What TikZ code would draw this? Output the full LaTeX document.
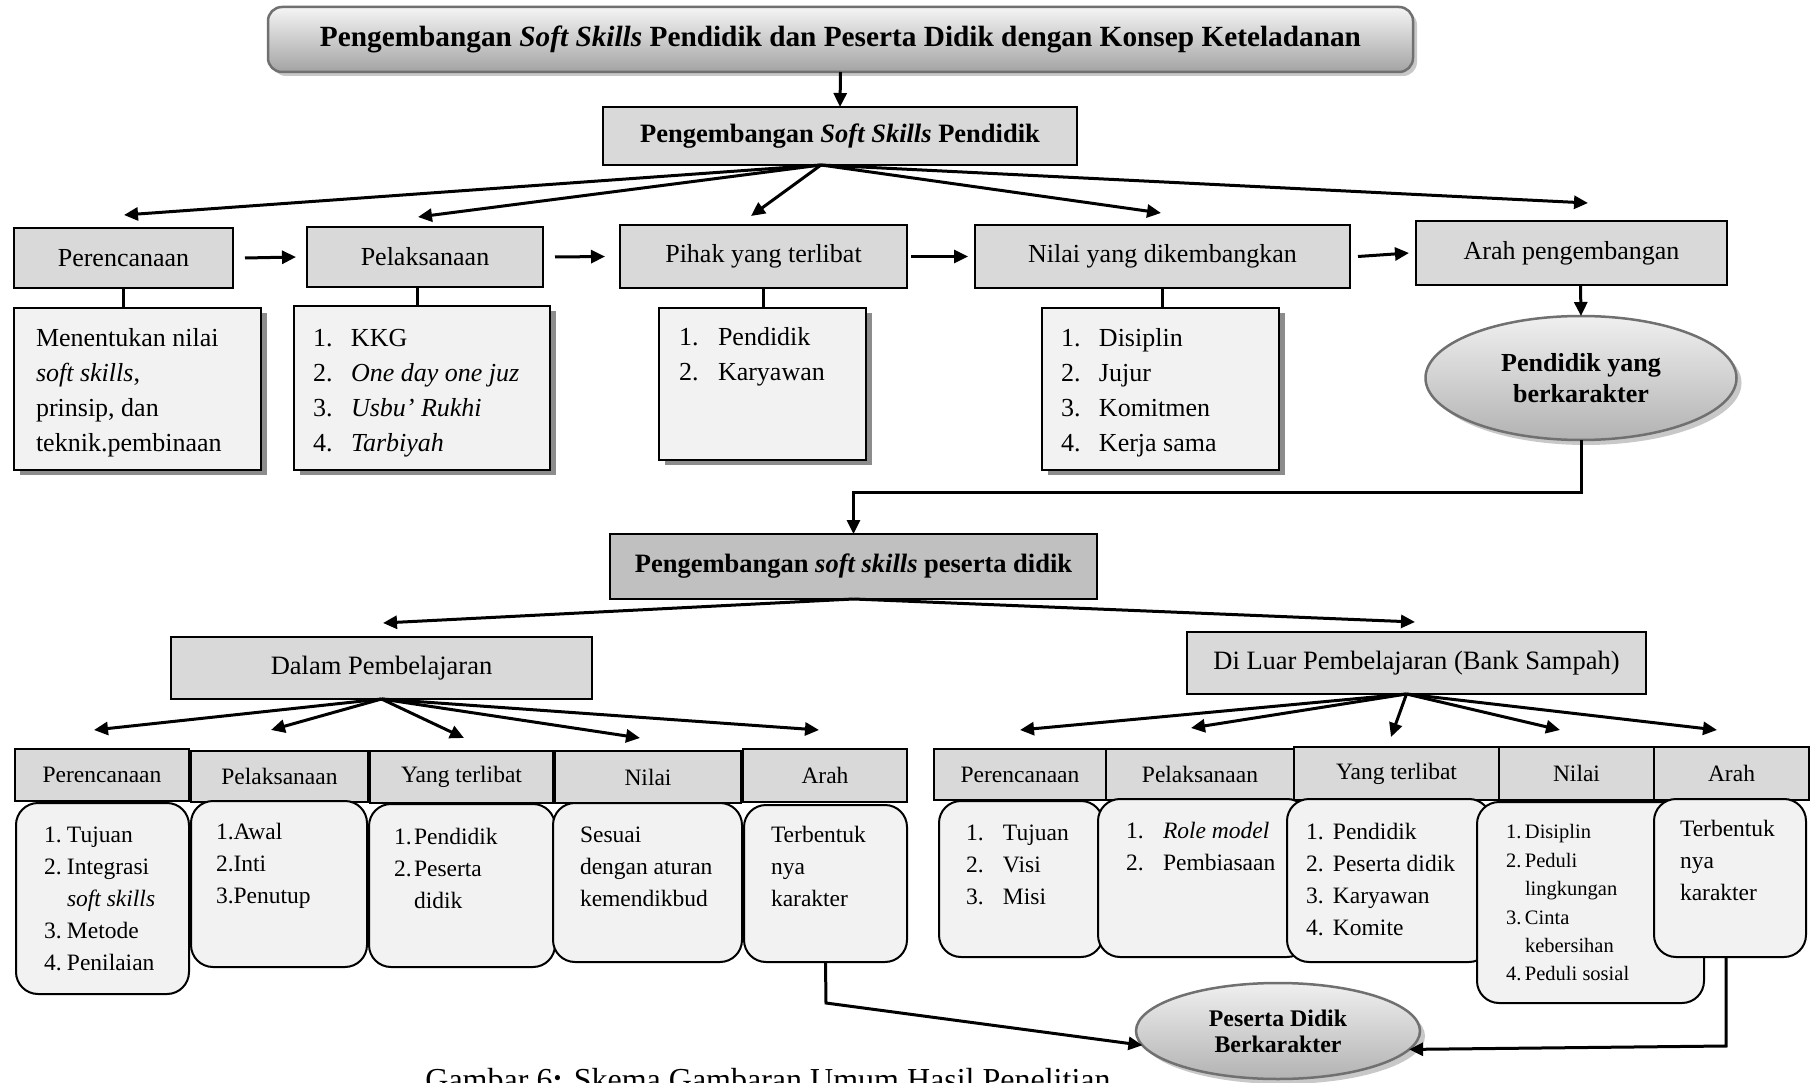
\documentclass[tikz,border=0pt]{standalone}
\usepackage{fontspec}
\setmainfont{Liberation Serif}
\usetikzlibrary{arrows.meta,shapes.geometric,shadows,calc}
\definecolor{hdr}{HTML}{D9D9D9}
\definecolor{hdrdark}{HTML}{C0C0C0}
\definecolor{lite}{HTML}{F2F2F2}
\definecolor{edgegray}{HTML}{707070}
\definecolor{shd}{HTML}{8C8C8C}
\definecolor{shdlite}{HTML}{C8C8C8}
\newcommand\myfA{\fontsize{26}{35}\selectfont}
\newcommand\myfB{\bfseries\fontsize{26.5}{32}\selectfont}
\newcommand\myfT{\bfseries\fontsize{29.3}{34}\selectfont}
\newcommand\myfC{\fontsize{26.5}{32}\selectfont}
\newcommand\myfD{\fontsize{23.5}{32}\selectfont}
\newcommand\myfE{\fontsize{20.5}{28.4}\selectfont}
\newcommand\myfF{\bfseries\fontsize{26}{31}\selectfont}
\newcommand\myfG{\bfseries\fontsize{23.8}{26}\selectfont}
\newcommand\myfH{\fontsize{32}{38}\selectfont}
\newcommand\itm[2]{\makebox[#1][l]{#2}}
\newcommand\BX[7]{\node[#2,anchor=north west,minimum width=#5-#3,minimum height=#6-#4] (#1) at (#3,#4) {#7};}
\begin{document}
\begin{tikzpicture}[x=1pt,y=-1pt,
  every node/.style={inner sep=0pt,outer sep=0pt},
  gbox/.style={draw=black,line width=2pt,fill=hdr},
  lbox/.style={draw=black,line width=2pt,fill=lite,drop shadow={shadow xshift=6pt,shadow yshift=-5pt,fill=shd,opacity=1}},
  rbox/.style={draw=black,line width=2pt,fill=lite,rounded corners=22pt},
  txt/.style={anchor=north west,align=left},
  arr/.style={line width=3pt,-{Triangle[length=14pt,width=13pt]}},
  ln/.style={line width=3pt},
  oval/.style={ellipse,draw=edgegray,line width=2.5pt,top color=white!94!black,bottom color=black!30,
     drop shadow={shadow xshift=5pt,shadow yshift=-5pt,fill=shdlite,opacity=1},align=center},
]
\useasboundingbox[fill=white] (0,0) rectangle (1816,1083);

% ---------- title ----------
\BX{title}{draw=edgegray,line width=2.5pt,rounded corners=14pt,top color=white!96!black,bottom color=black!36,
  drop shadow={shadow xshift=4pt,shadow yshift=-4pt,fill=shdlite,opacity=1},font=\myfT}{268}{7}{1413}{72}
  {Pengembangan \textit{Soft Skills} Pendidik dan Peserta Didik dengan Konsep Keteladanan}
\BX{b2}{gbox,font=\myfB}{603}{107}{1077}{165}{Pengembangan \textit{Soft Skills} Pendidik}
\draw[arr] (title.south) -- (b2.north);

% ---------- row 1 ----------
\BX{p1}{gbox,font=\myfA}{14}{228}{233}{288}{Perencanaan}
\BX{p2}{gbox,font=\myfA}{307}{227}{543}{287}{Pelaksanaan}
\BX{p3}{gbox,font=\myfA}{620}{225}{907}{288}{Pihak yang terlibat}
\BX{p4}{gbox,font=\myfA}{975}{225}{1350}{288}{Nilai yang dikembangkan}
\BX{p5}{gbox,font=\myfA}{1416}{221}{1727}{285}{Arah pengembangan}

\coordinate (o1) at ([xshift=-19pt]b2.south);
\coordinate (tp1) at (124,215);
\coordinate (tp2) at (418,217);
\coordinate (tp3) at (751,216);
\coordinate (tp4) at (1161,213);
\coordinate (tp5) at (1588,203);
\foreach \t in {tp1,tp2,tp3,tp4,tp5} \draw[arr] (o1) -- (\t);

\draw[arr] ([xshift=12pt]p1.east) -- ([xshift=-11pt]p2.west);
\draw[arr] ([xshift=12pt]p2.east) -- ([xshift=-15pt]p3.west);
\draw[arr] ([xshift=4pt]p3.east) -- ([xshift=-7pt]p4.west);
\draw[arr] ([xshift=8pt]p4.east) -- ([xshift=-7pt]p5.west);

% ---------- row 2 ----------
\BX{m1}{lbox}{14}{308}{261}{470}{}
\BX{m2}{lbox}{294}{306}{550}{470}{}
\BX{m3}{lbox}{659}{308}{866}{460}{}
\BX{m4}{lbox}{1042}{308}{1279}{470}{}
\node[txt,font=\myfA] (tm1) at (36,321.5) {\strut Menentukan nilai\\\textit{soft skills},\\prinsip, dan\\teknik.pembinaan};
\node[txt,font=\myfA] (tm2) at (313,321.5) {\strut\itm{38pt}{1.}KKG\\\itm{38pt}{2.}\textit{One day one juz}\\\itm{38pt}{3.}\textit{Usbu' Rukhi}\\\itm{38pt}{4.}\textit{Tarbiyah}};
\node[txt,font=\myfA] (tm3) at (679,321.5) {\strut\itm{39pt}{1.}Pendidik\\\itm{39pt}{2.}Karyawan};
\node[txt,font=\myfA] (tm4) at (1061,321.5) {\strut\itm{38pt}{1.}Disiplin\\\itm{38pt}{2.}Jujur\\\itm{38pt}{3.}Komitmen\\\itm{38pt}{4.}Kerja sama};

\draw[ln] (p1.south) -- (p1.south |- m1.north);
\draw[ln] ([xshift=-8pt]p2.south) -- ([xshift=-8pt]p2.south |- m2.north);
\draw[ln] (p3.south) -- (p3.south |- m3.north);
\draw[ln] (p4.south) -- (p4.south |- m4.north);

\node[oval,minimum width=311,minimum height=124,font=\myfF] (e1) at (1581,378) {Pendidik yang\\berkarakter};
\draw[arr] ([xshift=9pt]p5.south) -- (e1.north);

% ---------- peserta didik ----------
\BX{b3}{draw=black,line width=2pt,fill=hdrdark,font=\myfB}{610}{534}{1097}{599}{Pengembangan \textit{soft skills} peserta didik}
\coordinate (j1) at (1581,492);
\draw[ln,-{Triangle[length=14pt,width=13pt]}] (e1.south) -- (j1) -| (b3.north);

\BX{d1}{gbox,font=\myfC}{171}{637}{592}{699}{Dalam Pembelajaran}
\BX{d2}{gbox,font=\myfC}{1187}{632}{1646}{694}{Di Luar Pembelajaran (Bank Sampah)}
\coordinate (td1) at (383,623);
\coordinate (td2) at (1415,622);
\draw[arr] (b3.south) -- (td1);
\draw[arr] (b3.south) -- (td2);

% ---------- left lower row ----------
\coordinate (o2) at (d1.south);
\coordinate (u1) at (94,730);
\coordinate (u2) at (271,730);
\coordinate (u3) at (464,738);
\coordinate (u4) at (640,738);
\coordinate (u5) at (819,730);
\foreach \t in {u1,u2,u3,u4,u5} \draw[arr] (o2) -- (\t);

\BX{h1}{gbox,font=\myfD}{15}{749}{189}{801}{Perencanaan}
\BX{h2}{gbox,font=\myfD}{191}{751}{368}{802}{Pelaksanaan}
\BX{h3}{gbox,font=\myfD}{370}{751}{553}{803}{Yang terlibat}
\BX{h4}{gbox,font=\myfD}{555}{751}{741}{803}{Nilai}
\BX{h5}{gbox,font=\myfD}{743}{749}{907}{802}{Arah}

\BX{l1}{rbox}{16}{803}{189}{994}{}
\BX{l2}{rbox}{191}{801}{367}{967}{}
\BX{l3}{rbox}{369}{804}{555}{967}{}
\BX{l4}{rbox}{553}{803}{742}{962}{}
\BX{l5}{rbox}{744}{805}{907}{962}{}
\node[txt,font=\myfD] (tl1) at (44,820) {\strut\itm{23pt}{1.}Tujuan\\\itm{23pt}{2.}Integrasi\\\hspace*{23pt}\textit{soft skills}\\\itm{23pt}{3.}Metode\\\itm{23pt}{4.}Penilaian};
\node[txt,font=\myfD] (tl2) at (216,817) {\strut 1.Awal\\2.Inti\\3.Penutup};
\node[txt,font=\myfD] (tl3) at (394,821.6) {\strut\itm{20pt}{1.}Pendidik\\\itm{20pt}{2.}Peserta\\\hspace*{20pt}didik};
\node[txt,font=\myfD] (tl4) at (580,819.6) {\strut Sesuai\\dengan aturan\\kemendikbud};
\node[txt,font=\myfD] (tl5) at (771,819.6) {\strut Terbentuk\\nya\\karakter};

% ---------- right lower row ----------
\coordinate (o3) at ([xshift=-10pt]d2.south);
\coordinate (v1) at (1020,730);
\coordinate (v2) at (1191,728);
\coordinate (v3) at (1391,737);
\coordinate (v4) at (1560,730);
\coordinate (v5) at (1717,730);
\foreach \t in {v1,v2,v3,v4,v5} \draw[arr] (o3) -- (\t);

\BX{k1}{gbox,font=\myfD}{934}{749}{1106}{800}{Perencanaan}
\BX{k2}{gbox,font=\myfD}{1106}{749}{1294}{800}{Pelaksanaan}
\BX{k3}{gbox,font=\myfD}{1294}{747}{1499}{800}{Yang terlibat}
\BX{k4}{gbox,font=\myfD}{1499}{747}{1654}{800}{Nilai}
\BX{k5}{gbox,font=\myfD}{1654}{747}{1809}{800}{Arah}

\BX{r1}{rbox}{939}{801}{1103}{957}{}
\BX{r2}{rbox}{1098}{799}{1309}{957}{}
\BX{r3}{rbox}{1287}{799}{1491}{962}{}
\BX{r4}{rbox}{1477}{802}{1704}{1003}{}
\BX{r5}{rbox}{1654}{799}{1806}{957}{}
\node[txt,font=\myfD] (tr1) at (966,817.6) {\strut\itm{37pt}{1.}Tujuan\\\itm{37pt}{2.}Visi\\\itm{37pt}{3.}Misi};
\node[txt,font=\myfD] (tr2) at (1126,815.6) {\strut\itm{37pt}{1.}\textit{Role model}\\\itm{37pt}{2.}Pembiasaan};
\node[txt,font=\myfD] (tr3) at (1306,816.6) {\strut\itm{27pt}{1.}Pendidik\\\itm{27pt}{2.}Peserta didik\\\itm{27pt}{3.}Karyawan\\\itm{27pt}{4.}Komite};
\node[txt,font=\myfE] (tr4) at (1506,819) {\strut\itm{19pt}{1.}Disiplin\\\itm{19pt}{2.}Peduli\\\hspace*{19pt}lingkungan\\\itm{19pt}{3.}Cinta\\\hspace*{19pt}kebersihan\\\itm{19pt}{4.}Peduli sosial};
\node[txt,font=\myfD] (tr5) at (1680,813.6) {\strut Terbentuk\\nya\\karakter};

% ---------- final ellipse ----------
\node[oval,minimum width=284,minimum height=96,font=\myfG] (e2) at (1278,1031) {Peserta Didik\\Berkarakter};
\coordinate (j2) at (826,1003);
\coordinate (j3) at (1726,1046);
\draw[ln,-{Triangle[length=14pt,width=13pt]}] (l5.south) -- (j2) -- (e2.186);
\draw[ln,-{Triangle[length=14pt,width=13pt]}] ([xshift=-4pt]r5.south) -- (j3) -- (e2.-8);

% ---------- caption ----------
\node[anchor=base,font=\myfH] (cap) at (768,1090) {Gambar 6\textbf{:} Skema Gambaran Umum Hasil Penelitian};
\end{tikzpicture}
\end{document}
